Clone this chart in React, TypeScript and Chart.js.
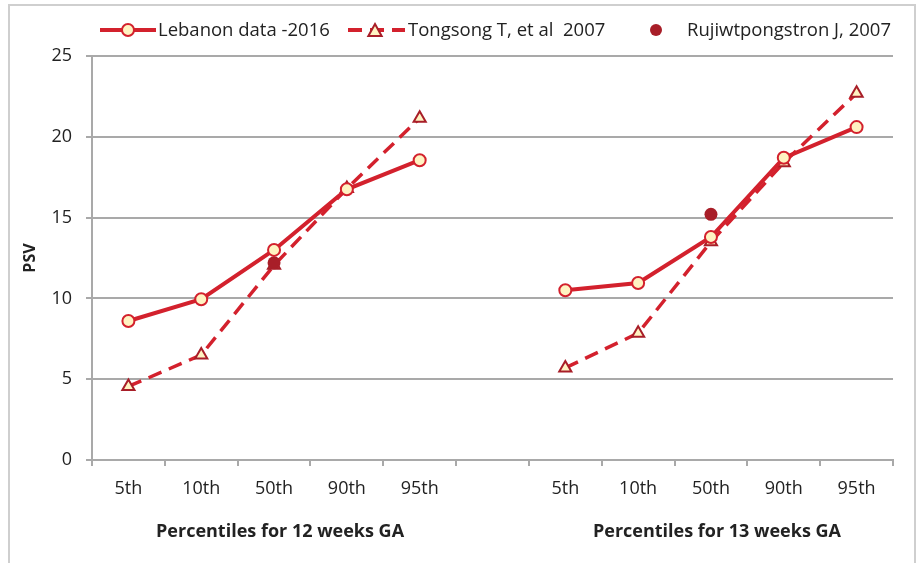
import React, { useEffect, useRef } from "react";
import { Chart, registerables } from "chart.js";

Chart.register(...registerables);

// ---- data ----
const categories = ["5th", "10th", "50th", "90th", "95th", "", "5th", "10th", "50th", "90th", "95th"];
const lebanon = [8.6, 9.95, 13.0, 16.75, 18.55, null, 10.5, 10.95, 13.8, 18.7, 20.6];
const tongsong = [4.55, 6.5, 12.05, 16.8, 21.15, null, 5.7, 7.85, 13.5, 18.4, 22.7];
const rujiwt = [null, null, 12.2, null, null, null, null, null, 15.2, null, null];
const seriesNames = ["Lebanon data -2016", "Tongsong T, et al  2007", "Rujiwtpongstron J, 2007"];
const groupTitles = ["Percentiles for 12 weeks GA", "Percentiles for 13 weeks GA"];
const groupCenterIndex = [2, 8];
const yTitle = "PSV";

// ---- styles ----
const FONT = "'Open Sans', Lato, sans-serif";
const RED = "#d3212d";
const DARK_RED = "#a81e28";
const CREAM = "#fff3c2";
const GRID = "#a9a9a9";
const TEXT = "#222222";

function drawTriangle(ctx: CanvasRenderingContext2D, x: number, y: number, r: number) {
  ctx.beginPath();
  ctx.moveTo(x, y - r);
  ctx.lineTo(x + r * 0.95, y + r * 0.7);
  ctx.lineTo(x - r * 0.95, y + r * 0.7);
  ctx.closePath();
  ctx.fill();
  ctx.stroke();
}

const decorPlugin = {
  id: "decor",
  afterDraw(chart: any) {
    const ctx: CanvasRenderingContext2D = chart.ctx;
    const xs = chart.scales.x;
    const area = chart.chartArea;
    ctx.save();
    // group titles
    ctx.fillStyle = TEXT;
    ctx.font = `bold 18px ${FONT}`;
    ctx.textAlign = "center";
    ctx.textBaseline = "middle";
    groupTitles.forEach((t, i) => {
      ctx.fillText(t, xs.getPixelForValue(groupCenterIndex[i]) + 6, 532);
    });
    // y title
    ctx.save();
    ctx.font = `bold 16px ${FONT}`;
    ctx.translate(30, (area.top + area.bottom) / 2);
    ctx.rotate(-Math.PI / 2);
    ctx.fillText(yTitle, 0, 0);
    ctx.restore();

    // legend
    const ly = 30;
    ctx.font = `18.5px ${FONT}`;
    ctx.textAlign = "left";
    ctx.fillStyle = TEXT;
    // item 1
    ctx.strokeStyle = RED;
    ctx.lineWidth = 4;
    ctx.setLineDash([]);
    ctx.beginPath();
    ctx.moveTo(100, ly);
    ctx.lineTo(156, ly);
    ctx.stroke();
    ctx.fillStyle = CREAM;
    ctx.lineWidth = 2;
    ctx.beginPath();
    ctx.arc(128, ly, 6, 0, Math.PI * 2);
    ctx.fill();
    ctx.stroke();
    ctx.fillStyle = TEXT;
    ctx.fillText(seriesNames[0], 158, ly + 1);
    // item 2
    ctx.strokeStyle = RED;
    ctx.lineWidth = 4;
    ctx.setLineDash([14, 8]);
    ctx.beginPath();
    ctx.moveTo(348, ly);
    ctx.lineTo(405, ly);
    ctx.stroke();
    ctx.setLineDash([]);
    ctx.fillStyle = CREAM;
    ctx.strokeStyle = DARK_RED;
    ctx.lineWidth = 2;
    drawTriangle(ctx, 375, ly + 1, 7);
    ctx.fillStyle = TEXT;
    ctx.fillText(seriesNames[1], 408, ly + 1);
    // item 3
    ctx.fillStyle = DARK_RED;
    ctx.beginPath();
    ctx.arc(656, ly, 6, 0, Math.PI * 2);
    ctx.fill();
    ctx.fillStyle = TEXT;
    ctx.fillText(seriesNames[2], 687, ly + 1);
    ctx.restore();
  },
};

export default function App() {
  const ref = useRef<HTMLCanvasElement | null>(null);

  useEffect(() => {
    if (!ref.current) return;
    const chart = new Chart(ref.current, {
      type: "line",
      data: {
        labels: categories,
        datasets: [
          {
            label: seriesNames[0],
            data: lebanon,
            borderColor: RED,
            borderWidth: 4,
            backgroundColor: CREAM,
            pointBackgroundColor: CREAM,
            pointBorderColor: RED,
            pointBorderWidth: 2,
            pointRadius: 6,
            pointStyle: "circle",
            tension: 0,
            spanGaps: false,
            order: 0,
          },
          {
            label: seriesNames[2],
            data: rujiwt,
            showLine: false,
            backgroundColor: DARK_RED,
            pointBackgroundColor: DARK_RED,
            pointBorderColor: DARK_RED,
            pointBorderWidth: 0,
            pointRadius: 6.5,
            pointStyle: "circle",
            order: 1,
          },
          {
            label: seriesNames[1],
            data: tongsong,
            borderColor: RED,
            borderWidth: 3.5,
            borderDash: [14, 8],
            backgroundColor: CREAM,
            pointBackgroundColor: CREAM,
            pointBorderColor: DARK_RED,
            pointBorderWidth: 2,
            pointRadius: 7,
            pointStyle: "triangle",
            tension: 0,
            spanGaps: false,
            order: 2,
          },
        ],
      },
      options: {
        animation: false,
        responsive: false,
        maintainAspectRatio: false,
        layout: { padding: { top: 56, right: 27, bottom: 10, left: 0 } },
        plugins: {
          legend: { display: false },
          tooltip: { enabled: false },
          title: { display: false },
        },
        scales: {
          x: {
            type: "category",
            offset: true,
            afterFit: (s: any) => {
              s.height = 93;
            },
            grid: {
              offset: true,
              drawOnChartArea: false,
              drawTicks: true,
              tickLength: 6,
              color: GRID,
              lineWidth: 2,
            },
            border: { color: GRID, width: 2 },
            ticks: {
              color: TEXT,
              font: { family: FONT, size: 18 },
              padding: 12,
              maxRotation: 0,
              autoSkip: false,
            },
          },
          y: {
            min: 0,
            max: 25,
            afterFit: (s: any) => {
              s.width = 92;
            },
            afterBuildTicks: (s: any) => {
              s.ticks = [0, 5, 10, 15, 20, 25].map((v) => ({ value: v }));
            },
            grid: {
              color: GRID,
              lineWidth: 2,
              drawTicks: true,
              tickLength: 6,
            },
            border: { color: GRID, width: 2 },
            ticks: {
              color: TEXT,
              font: { family: FONT, size: 18 },
              padding: 14,
            },
          },
        },
      },
      plugins: [decorPlugin],
    });
    return () => chart.destroy();
  }, []);

  return (
    <div style={{ position: "fixed", left: 0, top: 0, width: 920, height: 563, background: "#fff" }}>
      <div
        style={{
          position: "absolute",
          left: 8,
          top: 4,
          width: 908,
          height: 570,
          border: "2px solid #cfcfcf",
          boxSizing: "border-box",
        }}
      />
      <canvas ref={ref} width={920} height={563} style={{ position: "absolute", left: 0, top: 0, width: 920, height: 563 }} />
    </div>
  );
}
